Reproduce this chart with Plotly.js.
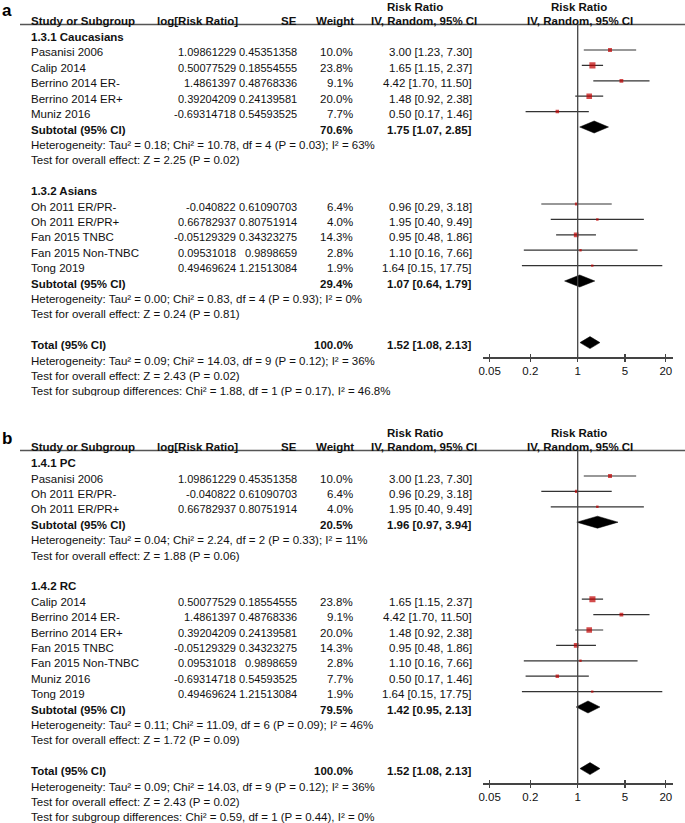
<!DOCTYPE html>
<html><head><meta charset="utf-8">
<script src="https://cdn.plot.ly/plotly-3.0.1.min.js"></script>
<style>
body{margin:0;background:#fff;}
#pa{position:absolute;left:0;top:0;width:685px;height:396px;overflow:hidden;}
#pb{position:absolute;left:0;top:396px;width:685px;height:427px;overflow:hidden;}
</style>
</head><body><div id="pa"></div><div id="pb"></div>
<script>
// ---- data ----
const studyNames = ['Pasanisi 2006','Calip 2014','Berrino 2014 ER-','Berrino 2014 ER+','Muniz 2016',
  'Oh 2011 ER/PR-','Oh 2011 ER/PR+','Fan 2015 TNBC','Fan 2015 Non-TNBC','Tong 2019'];
const logRR = ['1.09861229','0.50077529','1.4861397','0.39204209','-0.69314718',
  '-0.040822','0.66782937','-0.05129329','0.09531018','0.49469624'];
const seVals = ['0.45351358','0.18554555','0.48768336','0.24139581','0.54593525',
  '0.61090703','0.80751914','0.34323275','0.9898659','1.21513084'];
const weights = [10.0,23.8,9.1,20.0,7.7,6.4,4.0,14.3,2.8,1.9];
const rr   = [3.00,1.65,4.42,1.48,0.50,0.96,1.95,0.95,1.10,1.64];
const rrLo = [1.23,1.15,1.70,0.92,0.17,0.29,0.40,0.48,0.16,0.15];
const rrHi = [7.30,2.37,11.50,2.38,1.46,3.18,9.49,1.86,7.66,17.75];

const panelLabels = ['a','b'];
const groupTitles = [['1.3.1 Caucasians','1.3.2 Asians'],['1.4.1 PC','1.4.2 RC']];
const groupMembers = [[[0,1,2,3,4],[5,6,7,8,9]],[[0,5,6],[1,2,3,7,8,4,9]]];
const subWeights = [[70.6,29.4],[20.5,79.5]];
const subRR = [[1.75,1.07],[1.96,1.42]];
const subLo = [[1.07,0.64],[0.97,0.95]];
const subHi = [[2.85,1.79],[3.94,2.13]];
const subHet = [
  ['Heterogeneity: Tau² = 0.18; Chi² = 10.78, df = 4 (P = 0.03); I² = 63%',
   'Heterogeneity: Tau² = 0.00; Chi² = 0.83, df = 4 (P = 0.93); I² = 0%'],
  ['Heterogeneity: Tau² = 0.04; Chi² = 2.24, df = 2 (P = 0.33); I² = 11%',
   'Heterogeneity: Tau² = 0.11; Chi² = 11.09, df = 6 (P = 0.09); I² = 46%']];
const subZ = [
  ['Test for overall effect: Z = 2.25 (P = 0.02)','Test for overall effect: Z = 0.24 (P = 0.81)'],
  ['Test for overall effect: Z = 1.88 (P = 0.06)','Test for overall effect: Z = 1.72 (P = 0.09)']];
const totalWeight = 100.0, totalRR = 1.52, totalLo = 1.08, totalHi = 2.13;
const totalHet = 'Heterogeneity: Tau² = 0.09; Chi² = 14.03, df = 9 (P = 0.12); I² = 36%';
const totalZ = 'Test for overall effect: Z = 2.43 (P = 0.02)';
const subgroupTest = ['Test for subgroup differences: Chi² = 1.88, df = 1 (P = 0.17), I² = 46.8%',
  'Test for subgroup differences: Chi² = 0.59, df = 1 (P = 0.44), I² = 0%'];
const tickVals = [0.05,0.2,1,5,20];
const tickText = ['0.05','0.2','1','5','20'];

// ---- drawing ----
const W = 685;
const FONT = 'Arial, "Liberation Sans", sans-serif';
const TXT = '#111';
const ROW0 = 50, ROWH = 15.4;          // pixel centre of row 1 and row height
const TOPPX = 24.5, AXPX = 357.3;      // header line / axis line (panel pixels)
const kTop = 1 + (TOPPX - ROW0) / ROWH;
const kAx = 1 + (AXPX - ROW0) / ROWH;
const fmt = v => v.toFixed(2);
const ci = (e,l,h) => fmt(e) + ' [' + fmt(l) + ', ' + fmt(h) + ']';

function panel(divId, p, H, yoff, labelPx) {
  const py = px => 1 - (px + yoff) / H;
  const kBottom = 1 + (H - yoff - ROW0) / ROWH;
  const ann = [];
  const txt = (x, k, s, anchor, bold, size) => ann.push({
    xref:'paper', yref:'y', x:x / W, y:k, yshift:-2.5, text: bold ? '<b>' + s + '</b>' : s,
    showarrow:false, xanchor:anchor, yanchor:'middle',
    font:{family:FONT, size:size || 11.5, color:TXT}});
  const htxt = (x, ypx, s, anchor) => ann.push({
    xref:'paper', yref:'paper', x:x / W, y:py(ypx), text:'<b>' + s + '</b>',
    showarrow:false, xanchor:anchor, yanchor:'middle',
    font:{family:FONT, size:11.5, color:TXT}});

  // headers
  htxt(415, 7, 'Risk Ratio', 'center');
  htxt(579, 7, 'Risk Ratio', 'center');
  htxt(29, 20.5, 'Study or Subgroup', 'left');
  htxt(240, 20.5, 'log[Risk Ratio]', 'right');
  htxt(298.5, 20.5, 'SE', 'right');
  htxt(355.5, 20.5, 'Weight', 'right');
  htxt(424, 20.5, 'IV, Random, 95% CI', 'center');
  htxt(580, 20.5, 'IV, Random, 95% CI', 'center');
  ann.push({xref:'paper', yref:'paper', x:1 / W, y:py(labelPx), text:'<b>' + panelLabels[p] + '</b>',
    showarrow:false, xanchor:'left', yanchor:'middle', borderpad:0,
    font:{family:FONT, size:17, color:'#000'}});

  const ciX = [], ciY = [], sqX = [], sqY = [], sqS = [];
  const traces = [];
  const diamond = (e, l, h, k) => traces.push({
    type:'scatter', mode:'lines', x:[l, e, h, e, l], y:[k, k - 0.39, k, k + 0.39, k],
    fill:'toself', fillcolor:'#000', line:{color:'#000', width:0.5}, hoverinfo:'skip'});

  let k = 0;
  for (let g = 0; g < 2; g++) {
    txt(29, k, groupTitles[p][g], 'left', true); k++;
    for (const i of groupMembers[p][g]) {
      txt(29, k, studyNames[i], 'left');
      txt(238, k, logRR[i], 'right', false, 11);
      txt(299, k, seVals[i], 'right', false, 11);
      txt(355, k, weights[i].toFixed(1) + '%', 'right');
      txt(474, k, ci(rr[i], rrLo[i], rrHi[i]), 'right');
      ciX.push(rrLo[i], rrHi[i], null); ciY.push(k, k, null);
      sqX.push(rr[i]); sqY.push(k); sqS.push(Math.max(2.4, 1.25 * Math.sqrt(weights[i])));
      k++;
    }
    txt(29, k, 'Subtotal (95% CI)', 'left', true);
    txt(355, k, subWeights[p][g].toFixed(1) + '%', 'right', true);
    txt(474, k, ci(subRR[p][g], subLo[p][g], subHi[p][g]), 'right', true);
    diamond(subRR[p][g], subLo[p][g], subHi[p][g], k);
    txt(29, k + 1, subHet[p][g], 'left');
    txt(29, k + 2, subZ[p][g], 'left');
    k += 4;
  }
  txt(29, k, 'Total (95% CI)', 'left', true);
  txt(355, k, totalWeight.toFixed(1) + '%', 'right', true);
  txt(474, k, ci(totalRR, totalLo, totalHi), 'right', true);
  diamond(totalRR, totalLo, totalHi, k);
  txt(29, k + 1, totalHet, 'left');
  txt(29, k + 2, totalZ, 'left');
  txt(29, k + 3, subgroupTest[p], 'left');

  traces.unshift({type:'scatter', mode:'lines', x:ciX, y:ciY, line:{color:'#333', width:1.2}, hoverinfo:'skip'});
  traces.push({type:'scatter', mode:'markers', x:sqX, y:sqY,
    marker:{symbol:'square', size:sqS, color:'#c00000', line:{width:0}}, hoverinfo:'skip'});
  traces.unshift({type:'scatter', mode:'lines', x:[1, 1], y:[kTop, kAx], xaxis:'x2',
    line:{color:'#444', width:1.3}, hoverinfo:'skip'});

  const xr = [-1.403, 1.403];
  const dom = [482.7 / W, 672.7 / W];
  const layout = {
    width:W, height:H, margin:{l:0, r:0, t:0, b:0}, showlegend:false,
    paper_bgcolor:'#fff', plot_bgcolor:'rgba(0,0,0,0)',
    xaxis:{type:'log', range:xr, domain:dom, anchor:'free', position:py(AXPX), showline:true,
      linecolor:'#444', linewidth:1.3,
      ticks:'outside', ticklen:3, tickwidth:1.2, tickcolor:'#444', tickvals:tickVals, ticktext:tickText,
      tickfont:{family:FONT, size:11.5, color:TXT}, showgrid:false, zeroline:false, fixedrange:true},
    xaxis2:{type:'log', range:xr, domain:dom, anchor:'free', position:py(AXPX), overlaying:'x',
      side:'bottom', showline:false,
      ticks:'inside', ticklen:3, tickwidth:1.2, tickcolor:'#444', tickvals:tickVals, showticklabels:false,
      showgrid:false, zeroline:false},
    yaxis:{range:[kBottom, kTop], domain:[0, py(TOPPX)], visible:false, fixedrange:true},
    shapes:[{type:'line', xref:'paper', yref:'paper', x0:20 / W, x1:1, y0:py(TOPPX), y1:py(TOPPX),
      line:{color:'#555', width:1.3}}],
    annotations:ann
  };
  Plotly.newPlot(divId, traces, layout, {staticPlot:true, displayModeBar:false});
}

panel('pa', 0, 396, 0, 10.5);
panel('pb', 1, 427, 30, 12.5);
</script>
</body></html>
